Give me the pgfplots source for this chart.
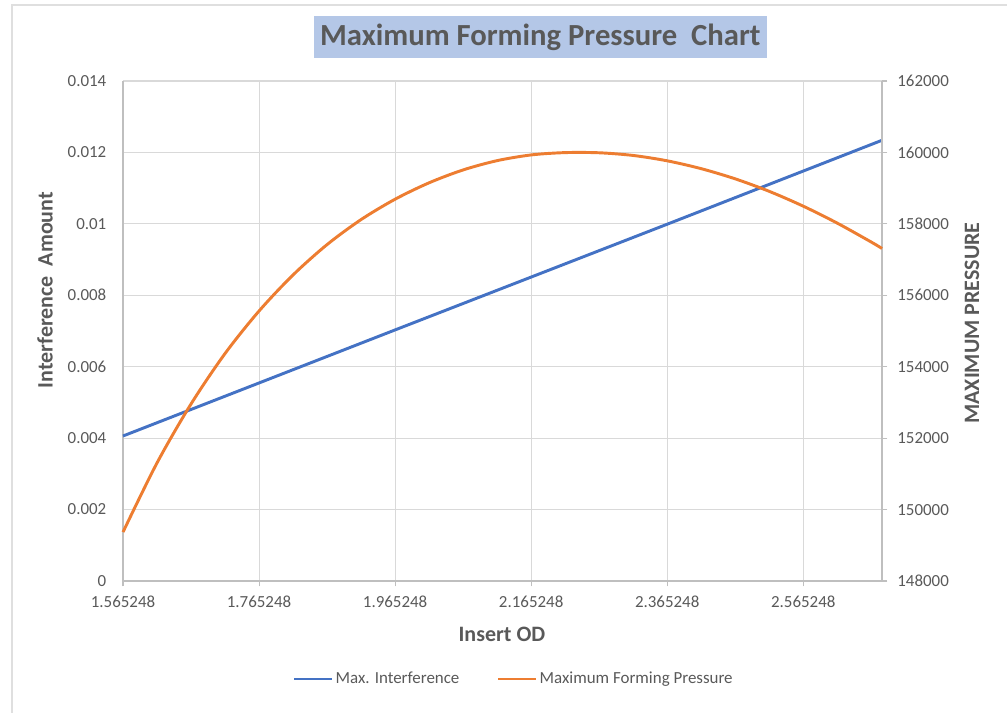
\documentclass[border=0pt]{standalone}
\usepackage{pgfplots}
\pgfplotsset{compat=1.18}
\usepackage{fontspec}
\setmainfont{Carlito}

\definecolor{serblue}{HTML}{4472C4}
\definecolor{serorange}{HTML}{ED7D31}
\definecolor{txtgray}{HTML}{595959}
\definecolor{gridgray}{HTML}{D9D9D9}
\definecolor{axgray}{HTML}{BFBFBF}
\definecolor{titlebg}{HTML}{B4C7E7}

\begin{document}
\begin{tikzpicture}
% picture frame: 1007x713 px at 0.75pt/px, origin at lower left of plot area
\path[use as bounding box] (-92.25pt,-99pt) rectangle (663pt,435.75pt);
\draw[color=gray!25, line width=1pt] (-83.25pt,-99pt) -- (-83.25pt,432pt) -- (663pt,432pt);

\node[fill=titlebg, text=txtgray, font=\fontsize{23}{26}\selectfont\bfseries,
      minimum width=340pt, minimum height=32pt, inner sep=0pt] at (313pt,408pt)
      {Maximum Forming Pressure\ \ Chart};

\begin{axis}[%
width=569.25pt,
height=375pt,
at={(0pt,0pt)},
anchor=south west,
scale only axis,
xmin=1.565248,
xmax=2.681,
ymin=0,
ymax=0.014,
xtick={1.565248,1.765248,1.965248,2.165248,2.365248,2.565248},
xticklabels={1.565248,1.765248,1.965248,2.165248,2.365248,2.565248},
ytick={0,0.002,0.004,0.006,0.008,0.01,0.012,0.014},
yticklabels={0,0.002,0.004,0.006,0.008,0.01,0.012,0.014},
scaled ticks=false,
axis x line*=bottom,
axis y line*=left,
axis line style={draw=axgray, line width=0.8pt, -},
grid=major,
major grid style={draw=gridgray, line width=0.8pt},
tick align=outside,
major tick length=4pt,
xtick style={draw=axgray, line width=0.8pt},
ytick style={draw=none},
ticklabel style={text=txtgray, font=\fontsize{12.7}{14}\selectfont},
yticklabel style={xshift=-5pt},
xticklabel style={yshift=-4pt},
xlabel={Insert OD},
ylabel={Interference\ \ Amount},
label style={text=txtgray, font=\fontsize{16.5}{19}\selectfont\bfseries},
xlabel style={at={(axis description cs:0.4993,-0.106)}, anchor=center},
ylabel style={at={(axis description cs:-0.1028,0.582)}, anchor=center},
clip=false
]
\addplot[color=serblue, line width=2.2pt] table[row sep=crcr] {%
x	y\\
1.565248	0.00406\\
1.965248	0.00703\\
2.365248	0.00999\\
2.681	0.01234\\
};
\end{axis}

\begin{axis}[%
width=569.25pt,
height=375pt,
at={(0pt,0pt)},
anchor=south west,
scale only axis,
xmin=1.565248,
xmax=2.681,
ymin=148000,
ymax=162000,
ytick={148000,150000,152000,154000,156000,158000,160000,162000},
yticklabels={148000,150000,152000,154000,156000,158000,160000,162000},
scaled ticks=false,
axis x line=none,
axis y line*=right,
axis line style={draw=axgray, line width=0.8pt, -},
tick align=outside,
major tick length=4pt,
ytick style={draw=axgray, line width=0.8pt},
ticklabel style={text=txtgray, font=\fontsize{12.7}{14}\selectfont},
yticklabel style={xshift=4pt},
ylabel={MAXIMUM PRESSURE},
ylabel style={text=txtgray, font=\fontsize{16.5}{19}\selectfont\bfseries,
  at={(axis description cs:1.1186,0.516)}, anchor=center},
legend style={at={(axis description cs:0.5152,-0.196)}, anchor=center,
  draw=none, fill=none, legend columns=2, text=txtgray,
  font=\fontsize{12.7}{14}\selectfont,
  /tikz/every even column/.append style={column sep=26pt}},
legend image code/.code={\draw[#1] (0pt,0pt) -- (28pt,0pt);},
legend cell align=left,
clip=false
]
\addlegendimage{color=serblue, line width=2.2pt}
\addlegendentry{Max. Interference}
\addplot[color=serorange, line width=2.2pt, smooth] table[row sep=crcr] {%
x	y\\
1.565248	149369\\
1.615248	151306\\
1.665248	152956\\
1.715248	154369\\
1.765248	155560\\
1.815248	156570\\
1.865248	157420\\
1.915248	158120\\
1.965248	158690\\
2.015248	159150\\
2.065248	159510\\
2.115248	159770\\
2.165248	159930\\
2.215248	159995\\
2.265248	159990\\
2.315248	159915\\
2.365248	159765\\
2.415248	159545\\
2.465248	159260\\
2.515248	158910\\
2.565248	158495\\
2.615248	158020\\
2.665248	157490\\
2.681	157310\\
};
\addlegendentry{Maximum Forming Pressure}
\end{axis}
\end{tikzpicture}
\end{document}
